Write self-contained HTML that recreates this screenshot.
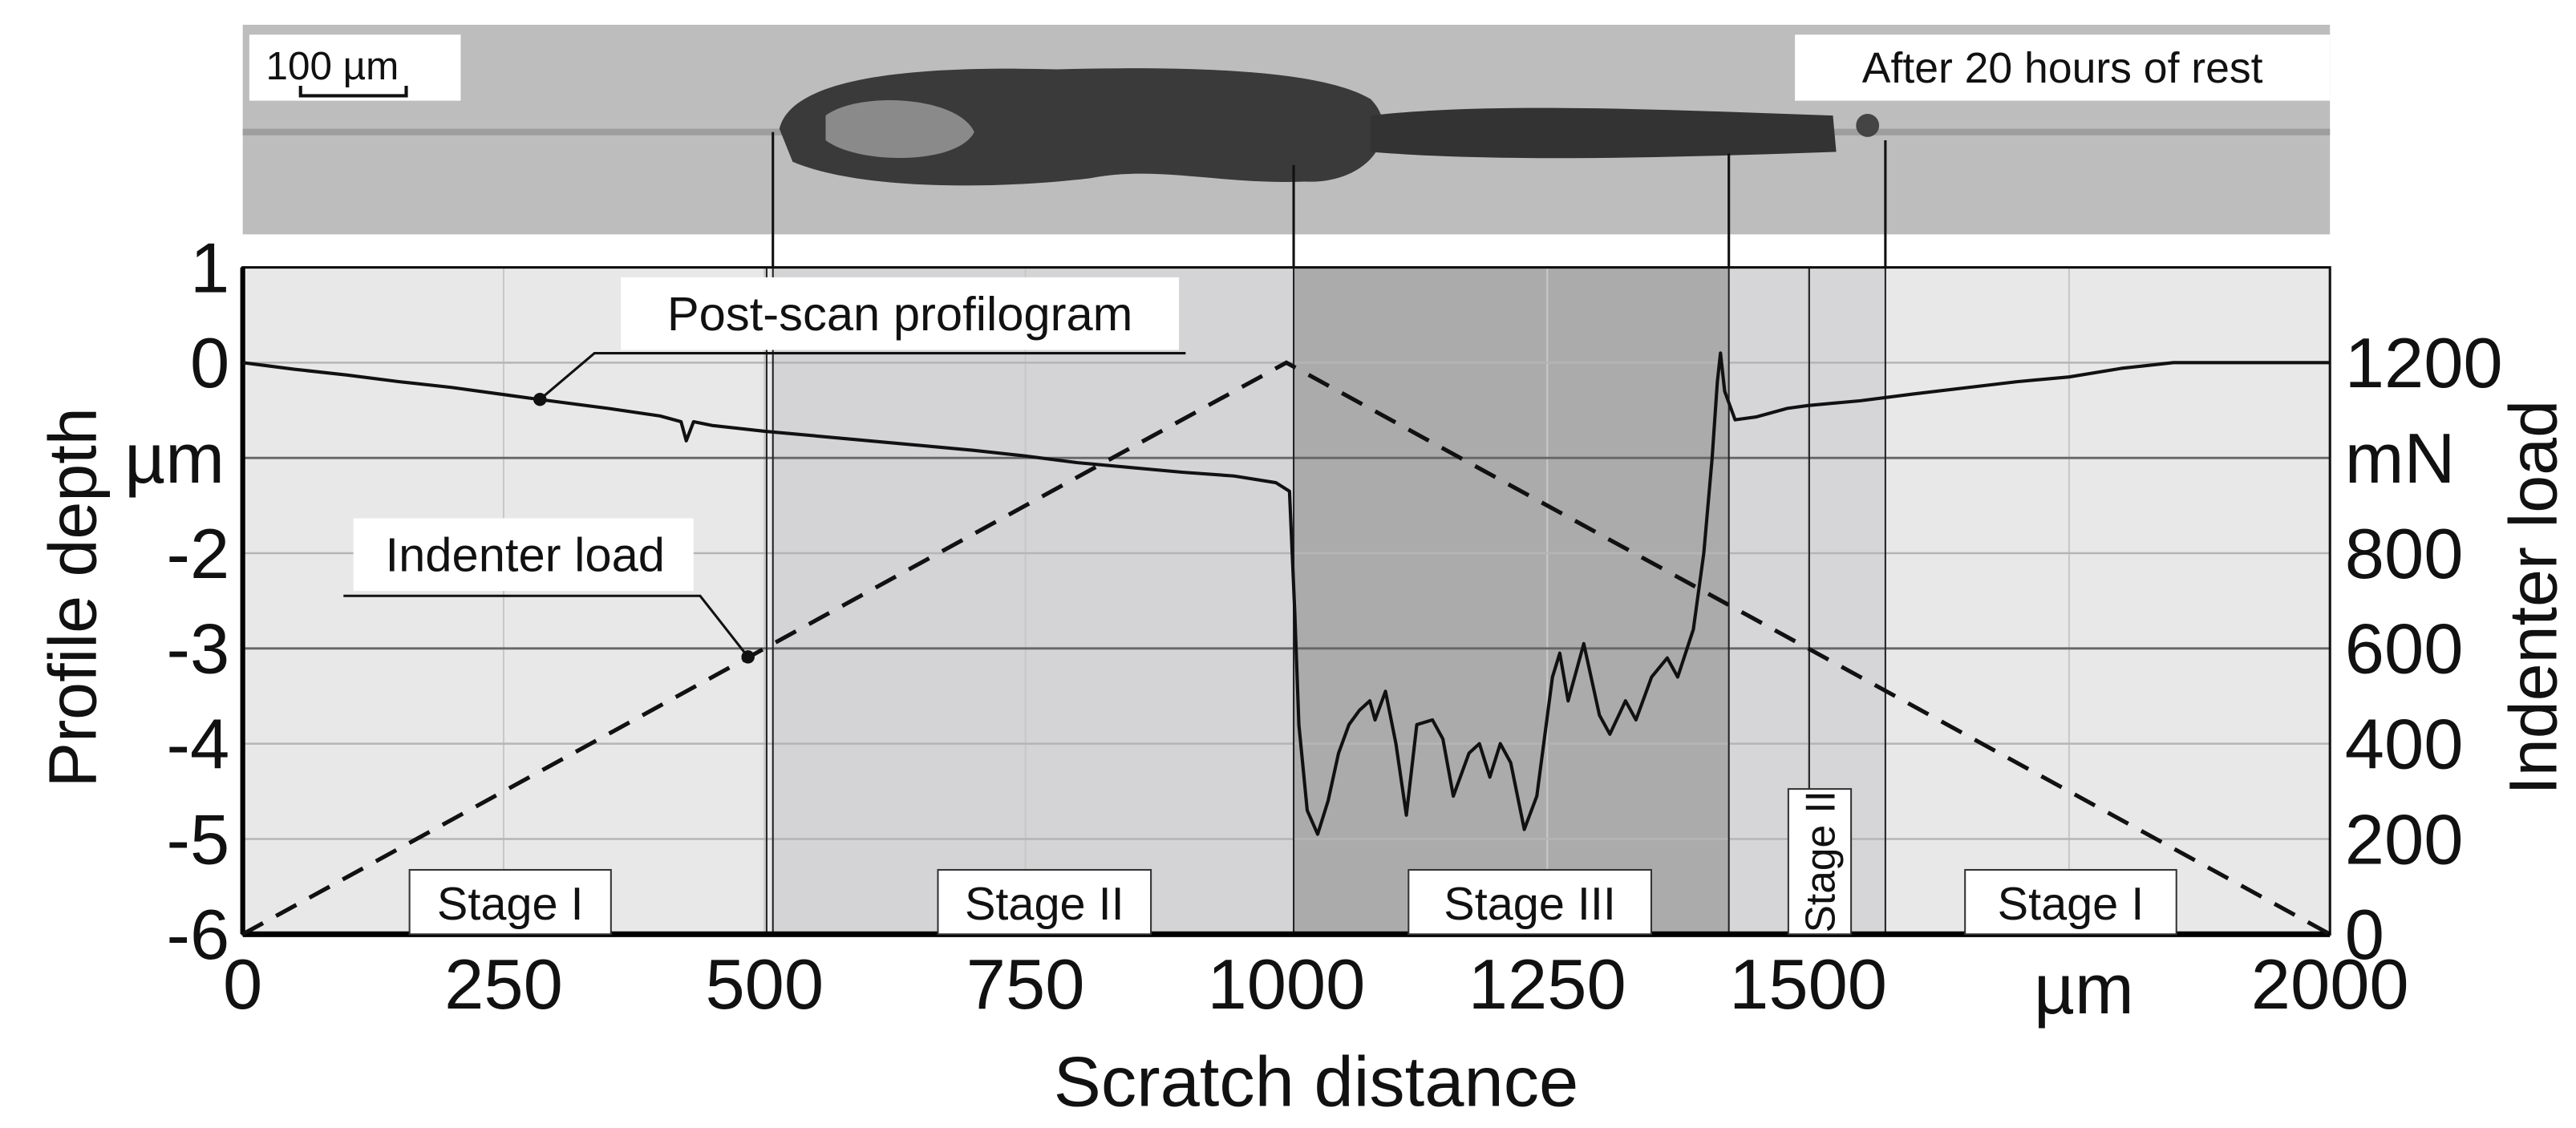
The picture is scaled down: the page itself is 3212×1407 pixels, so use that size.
<!DOCTYPE html>
<html><head><meta charset="utf-8"><style>
html,body{margin:0;padding:0;background:#fff;}
svg{display:block;}
text{font-family:"Liberation Sans",sans-serif;fill:#111;}
</style></head><body>
<svg id="chart" width="3212" height="1407" viewBox="0 0 1560 683.4" preserveAspectRatio="none">
<g id="photo">
<rect x="147" y="15" width="1264" height="127" fill="#bdbdbd"/>
<rect x="147" y="78" width="1264" height="4" fill="#9e9e9e"/>
<path d="M472 78 C480 45,560 40,640 42 C720 40,800 42,830 60 C850 80,830 112,790 110 C740 112,700 100,660 108 C600 115,520 115,480 98 Z" fill="#3a3a3a"/>
<path d="M500 70 C520 55,580 58,590 80 C580 100,520 100,500 85 Z" fill="#8a8a8a"/>
<path d="M830 70 C900 62,1000 66,1110 70 L1112 92 C1000 96,900 98,830 92 Z" fill="#333"/>
<circle cx="1131" cy="76" r="7" fill="#444"/>
<rect x="151" y="21" width="128" height="40" fill="#fff"/>
<text x="161" y="48" font-size="24">100 µm</text>
<path d="M182 52 V58 H246 V52" stroke="#111" stroke-width="2" fill="none"/>
<rect x="1087" y="21" width="324" height="40" fill="#fff"/>
<text x="1249" y="50" font-size="26" text-anchor="middle">After 20 hours of rest</text>
</g>
<g id="plot"></g>
</svg>
<script>
const xTicks=[0,250,500,750,1000,1250,1500,2000];
const yTicks=[1,0,-1,-2,-3,-4,-5,-6];
const yLabels=["1","0","µm","-2","-3","-4","-5","-6"];
const loadTicks=[0,200,400,600,800,1000,1200];
const loadLabels=["0","200","400","600","800","mN","1200"];
const stageStarts=[0,508,1007,1424,1574];
const stageEnds=[508,1007,1424,1574,2000];
const stageFills=["#e8e8e8","#d4d3d5","#ababab","#d6d6d8","#e8e8e8"];
const stageNames=["Stage I","Stage II","Stage III","Stage II","Stage I"];
const profX=[0,50,100,150,200,280,350,400,420,425,432,450,500,600,700,750,800,850,900,950,990,1003,1008,1012,1020,1030,1040,1050,1060,1070,1080,1085,1095,1105,1115,1125,1140,1150,1160,1175,1185,1195,1205,1215,1228,1240,1255,1262,1270,1285,1300,1310,1325,1335,1350,1365,1375,1390,1400,1408,1413,1416,1420,1430,1450,1480,1500,1550,1600,1700,1750,1800,1850,1900,2000];
const profY=[0,-0.07,-0.13,-0.2,-0.26,-0.38,-0.48,-0.56,-0.62,-0.82,-0.62,-0.66,-0.72,-0.82,-0.92,-0.98,-1.05,-1.1,-1.15,-1.19,-1.26,-1.35,-2.6,-3.8,-4.7,-4.95,-4.6,-4.1,-3.8,-3.65,-3.55,-3.75,-3.45,-4.0,-4.75,-3.8,-3.75,-3.95,-4.55,-4.1,-4.0,-4.35,-4.0,-4.2,-4.9,-4.55,-3.3,-3.05,-3.55,-2.95,-3.7,-3.9,-3.55,-3.75,-3.3,-3.1,-3.3,-2.8,-2.0,-1.0,-0.2,0.1,-0.3,-0.6,-0.57,-0.48,-0.45,-0.4,-0.33,-0.2,-0.15,-0.06,0,0,0];
const loadX=[0,1000,2000];
const loadY=[0,1200,0];
const L=147,R=1411,T=162,B=566;
const sx=v=>L+(v/2000)*(R-L);
const sy=v=>T+(1-v)/7*(B-T);
const sl=v=>sy(-6+v/200);
const NS="http://www.w3.org/2000/svg";
const g=document.getElementById('plot');
function mk(tag,attrs,parent){const e=document.createElementNS(NS,tag);for(const k in attrs)e.setAttribute(k,attrs[k]);(parent||g).appendChild(e);return e;}
stageStarts.forEach((s,i)=>{
 const r=mk('rect',{x:sx(s),y:T,width:sx(stageEnds[i])-sx(s),height:B-T,fill:stageFills[i]});
 
 
});
[250,500,750,1250,1500,1750].forEach(v=>{
 const l=mk('line',{x1:sx(v),x2:sx(v),y1:T,y2:B,stroke:'#c8c8c8','stroke-width':1});
 
 
});
yTicks.forEach(v=>{
 if(v===1||v===-6)return;
 const dark=(v===-1||v===-3);
 const l=mk('line',{x1:L,x2:R,y1:sy(v),y2:sy(v),stroke:dark?'#666':'#b5b5b5','stroke-width':dark?1.4:1.2});
 
 
});
[502,508,1007,1424,1501,1574].forEach(v=>{
 const l=mk('line',{x1:sx(v),x2:sx(v),y1:T,y2:B,stroke:'#222','stroke-width':1});
 
 
});
[[508,80],[1007,100],[1424,93],[1574,85]].forEach(([v,y0])=>{
 const l=mk('line',{x1:sx(v),x2:sx(v),y1:y0,y2:T,stroke:'#111','stroke-width':1.5});
 
 
});
const fr=mk('rect',{x:L,y:T,width:R-L,height:B-T,fill:'none',stroke:'#111','stroke-width':1.5});


const ax=mk('line',{x1:L,x2:R,y1:B,y2:B,stroke:'#000','stroke-width':3.5});


const ay=mk('line',{x1:L,x2:L,y1:T,y2:B,stroke:'#000','stroke-width':3});


const lp=mk('polyline',{points:loadX.map((x,i)=>sx(x)+','+sl(loadY[i])).join(' '),fill:'none',stroke:'#111','stroke-width':2.5,'stroke-dasharray':'14,9'});


const pp=mk('polyline',{points:profX.map((x,i)=>sx(x)+','+sy(profY[i])).join(' '),fill:'none',stroke:'#111','stroke-width':2,'stroke-linejoin':'round'});


const b1=mk('rect',{x:376,y:168,width:338,height:44,fill:'#fff'});


const t1=mk('text',{x:545,y:200,'font-size':29,'text-anchor':'middle'});t1.textContent='Post-scan profilogram';


const a1=mk('polyline',{points:'718,214 360,214 327,242',fill:'none',stroke:'#111','stroke-width':1.5});


const d1=mk('circle',{cx:327,cy:242,r:4,fill:'#111'});


const b2=mk('rect',{x:214,y:314,width:206,height:44,fill:'#fff'});


const t2=mk('text',{x:318,y:346,'font-size':29,'text-anchor':'middle'});t2.textContent='Indenter load';


const a2=mk('polyline',{points:'208,361 424,361 453,398',fill:'none',stroke:'#111','stroke-width':1.5});


const d2=mk('circle',{cx:453,cy:398,r:4,fill:'#111'});


const sb=[[248,370],[568,697],[853,1000],[1190,1318]];
const sIdx=[0,1,2,4];
sb.forEach(([a,b],k)=>{
 const r=mk('rect',{x:a,y:527,width:b-a,height:39,fill:'#fff',stroke:'#333','stroke-width':1});
 
 
 const t=mk('text',{x:(a+b)/2,y:557,'font-size':28,'text-anchor':'middle'});t.textContent=stageNames[sIdx[k]];
 
 
});
const rb=mk('rect',{x:1083,y:478,width:38,height:88,fill:'#fff',stroke:'#333','stroke-width':1});


const rt=mk('text',{x:1111,y:522,'font-size':25,'text-anchor':'middle',transform:'rotate(-90 1111 522)'});rt.textContent='Stage II';


xTicks.forEach(v=>{
 const t=mk('text',{x:sx(v),y:611,'font-size':43,'text-anchor':'middle'});t.textContent=String(v);
 
 
});
const um=mk('text',{x:1262,y:614,'font-size':43,'text-anchor':'middle'});um.textContent='µm';


yTicks.forEach((v,i)=>{
 const t=mk('text',{x:i===2?136:139,y:sy(v)+15,'font-size':43,'text-anchor':'end'});t.textContent=yLabels[i];
 
 
});
loadTicks.forEach((v,i)=>{
 const t=mk('text',{x:1420,y:sl(v)+15,'font-size':43});t.textContent=loadLabels[i];
 
 
});
const xt=mk('text',{x:797,y:670,'font-size':43,'text-anchor':'middle'});xt.textContent='Scratch distance';


const yt=mk('text',{x:58,y:362,'font-size':41,'text-anchor':'middle',transform:'rotate(-90 58 362)'});yt.textContent='Profile depth';


const rt2=mk('text',{x:1548,y:362,'font-size':41,'text-anchor':'middle',transform:'rotate(-90 1548 362)'});rt2.textContent='Indenter load';


</script>
</body></html>
